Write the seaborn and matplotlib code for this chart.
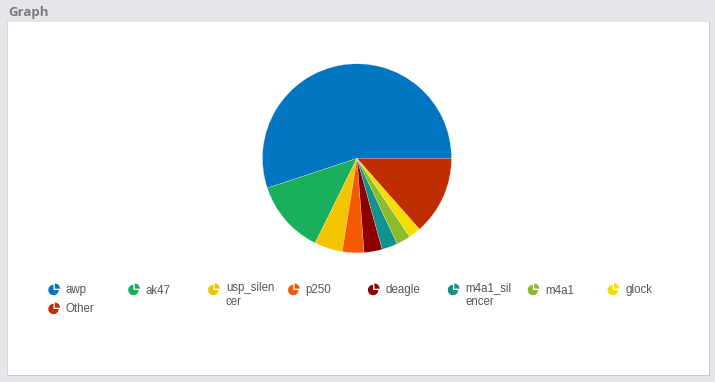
import matplotlib
matplotlib.use("Agg")
import matplotlib.pyplot as plt
from matplotlib.patches import Wedge, Rectangle
import seaborn as sns

# ---- data ----
labels = ["awp", "ak47", "usp_silencer", "p250", "deagle",
          "m4a1_silencer", "m4a1", "glock", "Other"]
legend_labels = ["awp", "ak47", "usp_silen\ncer", "p250", "deagle",
                 "m4a1_sil\nencer", "m4a1", "glock", "Other"]
values = [55.1, 12.6, 4.8, 3.7, 3.1, 2.7, 2.4, 2.1, 13.5]
colors = ["#0075c2", "#1aaf5d", "#f2c500", "#f45b00", "#8e0000",
          "#0e948c", "#8cbb2c", "#f3de00", "#c02d00"]

sns.set_theme(style="white")
plt.rcParams['font.family'] = ['Liberation Sans', 'DejaVu Sans']

W, H = 715, 382
fig = plt.figure(figsize=(W / 100, H / 100), dpi=100)
fig.patch.set_facecolor("#e6e6ea")

# overlay axes in pixel coordinates (y up)
bg = fig.add_axes([0, 0, 1, 1])
bg.set_xlim(0, W)
bg.set_ylim(0, H)
bg.axis("off")
bg.set_zorder(0)

# panel shadow + panel
bg.add_patch(Rectangle((8, H - 376), 702, 354, facecolor="#c9c9cc", edgecolor="none"))
bg.add_patch(Rectangle((7, H - 375), 702, 353, facecolor="white", edgecolor="none"))
bg.add_patch(Rectangle((7, H - 375), 0.8, 353, facecolor="#d4d4d8", edgecolor="none"))

fig.text(8 / W, 1 - 12.5 / H, "Graph", fontsize=9.5, fontweight="bold",
         color="#7b7b7e", va="center", ha="left", family=["Open Sans", "DejaVu Sans"])

# pie
cx, cy, r = 357, 158.3, 94.5
ax = fig.add_axes([(cx - r) / W, (H - cy - r) / H, 2 * r / W, 2 * r / H])
ax.set_zorder(1)
ax.pie(values, colors=colors, startangle=0, counterclock=True, radius=1,
       wedgeprops=dict(edgecolor="white", linewidth=0.15))
ax.set_xlim(-1, 1)
ax.set_ylim(-1, 1)
ax.set_aspect("equal")
ax.axis("off")

# legend
step = 79.9
for i, (lab, col) in enumerate(zip(legend_labels, colors)):
    col_i = i % 8
    row = i // 8
    ix = 53.5 + step * col_i
    iy = 290 + row * 19
    yy = H - iy
    bg.add_patch(Wedge((ix, yy), 5.2, 90, 360, facecolor=col, edgecolor="none"))
    bg.add_patch(Wedge((ix + 1.3, yy + 1.3), 5.2, 0, 90, facecolor=col, edgecolor="none"))
    tx = 66 + step * col_i
    if "\n" in lab:
        fig.text(tx / W, 1 - 282.5 / H, lab, fontsize=8.3, color="#555555",
                 ha="left", va="top", linespacing=1.15)
    else:
        fig.text(tx / W, 1 - (iy + 0.5) / H, lab, fontsize=8.3, color="#555555",
                 ha="left", va="center")

fig.savefig("out.png", dpi=100, facecolor=fig.get_facecolor())
